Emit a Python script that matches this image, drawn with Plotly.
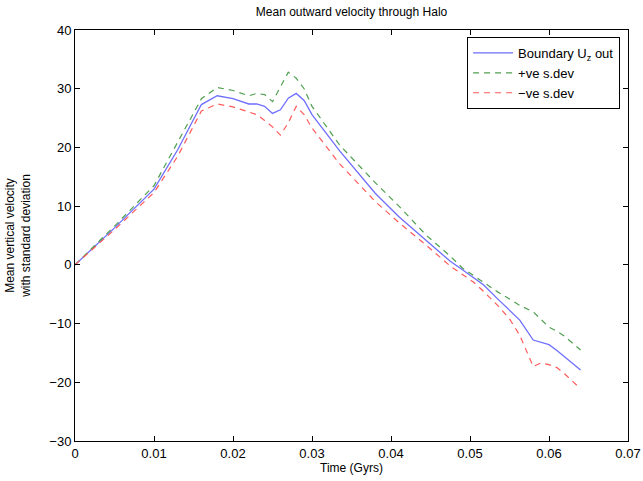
import plotly.graph_objects as go

time_gyrs = [0, 0.005, 0.010, 0.013, 0.016, 0.018, 0.020, 0.022, 0.023, 0.024, 0.025,
             0.026, 0.027, 0.028, 0.029, 0.030, 0.0335, 0.038, 0.041, 0.0445, 0.0475,
             0.049, 0.0505, 0.0517, 0.0535, 0.055, 0.0563, 0.058, 0.059, 0.060, 0.061,
             0.062, 0.064]

boundary_uz = [0, 6.3, 12.9, 19.6, 27.3, 28.8, 28.3, 27.4, 27.4, 27.0, 25.8,
               26.4, 28.4, 29.2, 28.0, 25.6, 19.4, 12.2, 8.2, 4.1, 0.6,
               -0.8, -2.3, -3.4, -5.8, -7.7, -9.4, -12.8, -13.2, -13.6, -14.6,
               -15.7, -17.9]

plus_sdev = [0, 6.6, 13.5, 21.0, 28.3, 30.2, 29.7, 28.8, 29.2, 29.0, 27.8,
             30.3, 32.8, 31.8, 30.0, 27.0, 20.4, 14.0, 10.0, 5.0, 1.5,
             -0.5, -1.9, -3.0, -4.6, -5.8, -6.9, -8.0, -9.3, -10.6, -11.3,
             -12.2, -14.5]

minus_sdev = [0, 6.0, 12.3, 18.5, 26.2, 27.4, 26.9, 26.0, 25.6, 24.6, 23.5,
              22.1, 24.2, 27.0, 25.6, 23.3, 17.2, 10.8, 7.2, 3.3, -0.2,
              -1.6, -3.0, -4.5, -6.9, -9.2, -12.0, -17.3, -16.7, -17.0, -17.5,
              -18.6, -21.1]

font = "Liberation Sans, Arial, Helvetica, sans-serif"

fig = go.Figure()
fig.add_trace(go.Scatter(x=time_gyrs, y=boundary_uz, mode="lines",
                         name="Boundary U<sub>z</sub> out",
                         line=dict(color="rgb(110,110,255)", width=1.3)))
fig.add_trace(go.Scatter(x=time_gyrs, y=plus_sdev, mode="lines",
                         name="+ve s.dev",
                         line=dict(color="rgb(80,160,80)", width=1.2, dash="6px,5px")))
fig.add_trace(go.Scatter(x=time_gyrs, y=minus_sdev, mode="lines",
                         name="\u2212ve s.dev",
                         line=dict(color="rgb(255,90,90)", width=1.2, dash="6px,5px")))

axis_common = dict(showline=True, linecolor="black", linewidth=1, mirror="ticks",
                   ticks="inside", ticklen=5, tickcolor="black", showgrid=False,
                   zeroline=False, automargin=False,
                   tickfont=dict(size=13, color="black", family=font))

fig.update_layout(
    width=643, height=481,
    margin=dict(l=75, r=15, t=30, b=40),
    paper_bgcolor="white", plot_bgcolor="white",
    font=dict(family=font, color="black"),
    title=dict(text="Mean outward velocity through Halo", x=0.5, xanchor="center",
               y=0.975, yanchor="middle", font=dict(size=12, family=font, color="black"),
               xref="paper"),
    xaxis=dict(range=[0, 0.07], dtick=0.01, tick0=0,
               title=dict(text="Time (Gyrs)", font=dict(size=12), standoff=0),
               **axis_common),
    yaxis=dict(range=[-30, 40], dtick=10, tick0=0,
               title=dict(text="Mean vertical velocity<br>with standard deviation",
                          font=dict(size=12), standoff=16),
               **axis_common),
    legend=dict(x=0.709, y=0.983, xanchor="left", yanchor="top",
                bordercolor="black", borderwidth=1, bgcolor="white",
                font=dict(size=13, family=font, color="black"),
                itemwidth=40, tracegroupgap=0),
)

fig.write_html("out.html", config={"displayModeBar": False},
               post_script="document.body.style.margin='0';document.body.style.overflow='hidden';")
